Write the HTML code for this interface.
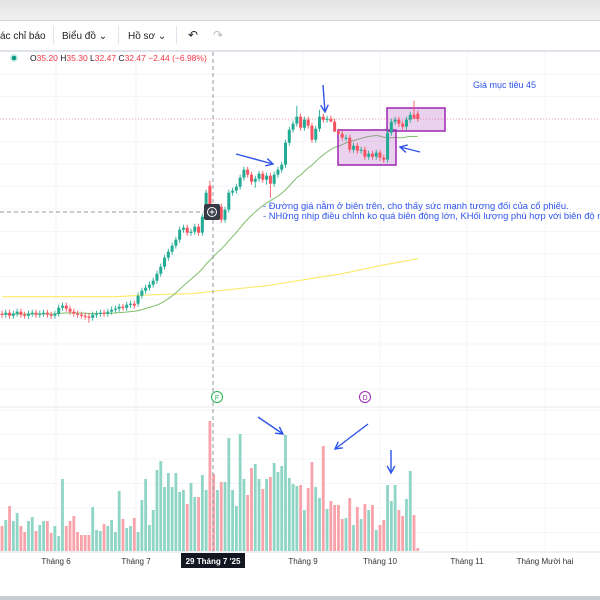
<!DOCTYPE html>
<html><head><meta charset="utf-8">
<style>
html,body{margin:0;padding:0;width:600px;height:600px;overflow:hidden;background:#fff;font-family:"Liberation Sans","Noto Sans CJK SC",sans-serif;}
#wrap{position:relative;width:600px;height:600px;}
.tb{position:absolute;font-size:10px;color:#222;top:31px;}
.sep{position:absolute;top:26px;width:1px;height:18px;background:#e0e3eb;}
svg{position:absolute;left:0;top:0;}
</style></head>
<body>
<div id="wrap">
<div style="position:absolute;left:0;top:0;width:600px;height:20px;background:linear-gradient(#e4e4e4,#f2f2f2);border-bottom:1px solid #d6d6d6;"></div>
<div style="position:absolute;left:0;top:21px;width:600px;height:29px;background:#fff;border-bottom:2px solid #e0e3eb;"></div>
<div class="tb" style="left:0">ác chỉ báo</div>
<div class="sep" style="left:53px"></div>
<div class="tb" style="left:62px">Biểu đồ ⌄</div>
<div class="sep" style="left:118px"></div>
<div class="tb" style="left:128px">Hồ sơ ⌄</div>
<div class="sep" style="left:176px"></div>
<div class="tb" style="left:188px;font-size:12px;top:28px">↶</div>
<div class="tb" style="left:213px;font-size:12px;top:28px;color:#bbb">↷</div>
<div style="position:absolute;left:0;top:596px;width:600px;height:4px;background:#c9ccd2;"></div>
<svg id="chart" width="600" height="600"></svg>
</div>
<script>
const closes=[12.9,13.1,12.8,13.0,13.2,12.9,12.8,13.0,13.1,12.9,
13.0,13.1,12.9,12.8,13.0,13.6,13.8,13.5,13.2,13.0,
12.9,12.8,12.7,12.6,12.9,13.0,13.1,13.0,13.2,13.4,
13.5,13.7,13.6,13.9,14.0,13.8,14.8,15.3,15.6,15.9,
16.3,17.0,17.7,18.6,19.2,19.8,20.4,21.4,21.6,21.1,
21.2,21.7,21.1,22.7,25.1,23.2,23.1,23.7,22.4,23.4,
25.1,25.3,25.7,26.6,27.4,26.9,26.2,26.5,27.0,26.4,
26.8,26.0,26.9,27.4,27.9,30.1,31.4,32.0,32.7,31.6,
32.4,31.8,30.4,31.5,32.7,32.4,32.5,32.2,31.2,31.0,
30.6,30.6,29.4,29.8,29.3,29.4,28.7,29.0,28.7,29.1,
28.6,28.4,31.1,32.2,32.4,32.0,31.7,32.4,32.9,32.5,32.47];
const opens=[13.0,12.9,13.1,12.8,13.0,13.2,12.9,12.8,13.0,13.1,
12.9,13.0,13.1,12.9,12.8,13.0,13.6,13.8,13.5,13.2,
13.0,12.9,12.8,12.7,12.6,12.9,13.0,13.1,13.0,13.2,
13.4,13.5,13.7,13.6,13.9,14.0,14.0,14.8,15.3,15.6,
15.9,16.3,17.0,17.7,18.6,19.2,19.8,20.4,21.4,21.6,
21.1,21.2,21.7,21.1,22.7,25.8,23.5,23.1,23.7,22.4,
23.4,25.1,25.3,25.7,26.6,27.4,26.9,26.2,26.5,27.0,
26.4,26.8,26.0,26.9,27.4,27.9,30.1,31.4,32.0,32.7,
31.6,32.4,31.8,30.4,31.5,32.7,32.4,32.5,32.2,31.2,
31.0,30.6,30.6,29.4,29.8,29.3,29.4,28.7,29.0,28.7,
29.1,28.6,28.4,31.1,32.2,32.4,32.0,31.7,32.4,32.9,33.0];
const highs=[13.3,13.4,13.4,13.3,13.5,13.5,13.2,13.3,13.4,13.4,
13.3,13.4,13.4,13.2,13.3,13.9,14.1,14.1,13.8,13.5,
13.3,13.2,13.1,13.0,13.2,13.3,13.4,13.4,13.5,13.7,
13.8,14.0,14.0,14.2,14.3,14.3,15.1,15.6,15.9,16.2,
16.6,17.3,18.0,18.9,19.5,20.1,20.7,21.7,21.9,21.9,
21.5,22.0,22.0,23.0,25.4,26.3,23.8,24.0,24.0,23.7,
25.4,25.6,26.0,26.9,27.7,27.7,27.2,26.8,27.3,27.3,
27.1,27.1,27.2,27.7,28.2,30.4,31.7,32.3,33.8,33.0,
32.7,32.7,32.1,31.8,33.4,33.0,32.8,32.8,32.5,31.5,
31.3,30.9,30.9,30.1,30.1,29.7,29.7,29.3,29.3,29.4,
29.4,28.9,31.4,32.5,32.7,32.7,32.3,32.7,33.2,34.3,33.3];
const lows=[12.6,12.6,12.5,12.5,12.7,12.6,12.5,12.5,12.7,12.6,
12.6,12.7,12.6,12.5,12.5,12.7,13.3,13.2,12.9,12.7,
12.6,12.5,12.4,12.1,12.3,12.6,12.7,12.7,12.7,12.9,
13.1,13.2,13.3,13.3,13.6,13.5,13.7,14.5,15.0,15.3,
15.6,16.0,16.7,17.4,18.3,18.9,19.5,20.1,21.1,20.8,
20.8,20.9,20.8,20.8,22.4,22.9,22.6,22.8,22.1,22.1,
23.1,24.8,25.0,25.4,26.3,26.6,25.9,25.6,26.2,26.1,
25.9,24.6,25.7,26.6,27.1,27.6,29.8,31.1,31.7,31.3,
31.3,31.5,30.1,30.1,31.2,32.1,32.1,32.2,31.2,30.9,
30.3,30.3,29.1,29.1,29.0,29.0,28.4,28.4,28.4,28.4,
28.3,28.1,28.1,30.8,31.9,31.7,31.4,31.4,32.1,32.6,32.2];
const volumes=[25,31,45,30,38,25,19,30,34,20,26,30,30,18,25,15,72,25,30,35,
19,16,16,16,44,21,20,27,25,31,19,60,32,23,25,33,19,51,72,26,
41,81,90,64,78,64,78,59,61,47,68,54,54,76,61,130,
77,61,69,69,113,61,45,117,72,56,83,87,72,62,72,74,88,79,85,116,
73,67,65,66,41,63,89,64,53,105,42,50,46,46,32,33,53,26,44,32,
47,41,46,21,26,31,66,50,66,41,35,52,80,36,3];
const slowMA=[14.7,14.7,14.7,14.7,14.9,15.0,15.4,15.8,16.4,17.0,17.8,18.5];
const monthLabels=["Tháng 6","Tháng 7","Tháng 9","Tháng 10","Tháng 11","Tháng Mười hai"];
const monthX=[56,136,303,380,467,545];

const NS="http://www.w3.org/2000/svg";
const svg=document.getElementById('chart');
const xOf=i=>2+i*3.78;
const yOf=p=>119+(32.47-p)*10;
const vBase=551;
const vY=v=>vBase-v;
const UP="#22ab94",DN="#f7525f",UPV="#8fd5c6",DNV="#f8a3aa";
function mk(tag,attrs,parent){const e=document.createElementNS(NS,tag);for(const k in attrs)e.setAttribute(k,attrs[k]);(parent||svg).appendChild(e);return e;}

const grid=mk('g',{});


for(let y=74;y<=400;y+=22.5){mk('line',{x1:0,x2:600,y1:y,y2:y,stroke:'#f4f5f8','stroke-width':1},grid);}
for(let y=410;y<=540;y+=24.5){mk('line',{x1:0,x2:600,y1:y,y2:y,stroke:'#f4f5f8','stroke-width':1},grid);}
monthX.forEach(x=>mk('line',{x1:x,x2:x,y1:52,y2:552,stroke:'#f4f5f8','stroke-width':1},grid));
mk('line',{x1:0,x2:600,y1:407,y2:407,stroke:'#e6e8ee','stroke-width':1},grid);

const vg=mk('g',{});


volumes.forEach((v,i)=>{
  const r=mk('rect',{x:xOf(i)-1.4,y:vY(v),width:2.8,height:v,fill:closes[i]>=opens[i]?UPV:DNV},vg);
  
  
});

const pl=mk('line',{x1:0,x2:600,y1:yOf(closes[closes.length-1]),y2:yOf(closes[closes.length-1]),stroke:'#f7a1a8','stroke-width':1,'stroke-dasharray':'1,2'});



let d='';
slowMA.forEach((v,k)=>{d+=(k?'L':'M')+xOf(k*10)+','+yOf(v);});
const ys=mk('path',{d:d,fill:'none',stroke:'#fbe96a','stroke-width':1.2});



d='';
closes.forEach((c,i)=>{const s=Math.max(0,i-24);let sum=0;for(let j=s;j<=i;j++)sum+=closes[j];const m=sum/(i-s+1);d+=(i?'L':'M')+xOf(i)+','+yOf(m);});
const gm=mk('path',{d:d,fill:'none',stroke:'#7fbf6a','stroke-width':1});



const b1=mk('rect',{x:338,y:130,width:58,height:35,fill:'rgba(186,104,200,0.3)',stroke:'#9c27b0','stroke-width':1.5});


const b2=mk('rect',{x:387,y:108,width:58,height:23,fill:'rgba(186,104,200,0.3)',stroke:'#9c27b0','stroke-width':1.5});



const cg=mk('g',{});


closes.forEach((c,i)=>{
  const o=opens[i],col=c>=o?UP:DN,x=xOf(i);
  mk('line',{x1:x,x2:x,y1:yOf(highs[i]),y2:yOf(lows[i]),stroke:col,'stroke-width':0.9},cg);
  const top=yOf(Math.max(o,c)),h=Math.max(1.2,Math.abs(yOf(o)-yOf(c)));
  const r=mk('rect',{x:x-1.5,y:top,width:3,height:h,fill:col},cg);
  
  
});

const ch=mk('g',{});


mk('line',{x1:213,x2:213,y1:52,y2:552,stroke:'#9598a1','stroke-width':1,'stroke-dasharray':'4,3'},ch);
mk('line',{x1:0,x2:205,y1:212,y2:212,stroke:'#9598a1','stroke-width':1,'stroke-dasharray':'4,3'},ch);
const pb=mk('g',{});


mk('rect',{x:204,y:204,width:16,height:16,rx:2,fill:'#363a45'},pb);
mk('circle',{cx:212,cy:212,r:4.5,fill:'none',stroke:'#fff','stroke-width':1},pb);
mk('path',{d:'M209.5,212H214.5M212,209.5V214.5',stroke:'#fff','stroke-width':1},pb);

function arrow(x1,y1,x2,y2,name){
  const g=mk('g',{});
  
  
  mk('line',{x1:x1,y1:y1,x2:x2,y2:y2,stroke:'#2f54eb','stroke-width':1.4},g);
  const a=Math.atan2(y2-y1,x2-x1),L=8;
  const p1=[x2-L*Math.cos(a-0.5),y2-L*Math.sin(a-0.5)],p2=[x2-L*Math.cos(a+0.5),y2-L*Math.sin(a+0.5)];
  mk('path',{d:`M${p1}L${x2},${y2}L${p2}`,fill:'none',stroke:'#2f54eb','stroke-width':1.4},g);
}
arrow(236,154,273,164,'arrow-uptrend');
arrow(323,85,325,112,'arrow-peak');
arrow(420,152,400,147,'arrow-support');
arrow(258,417,283,434,'arrow-volume-1');
arrow(368,424,335,449,'arrow-volume-2');
arrow(391,450,391,473,'arrow-volume-3');

function txt(x,y,s,attrs,name,inter){const t=mk('text',Object.assign({x:x,y:y,'font-family':'Liberation Sans, sans-serif'},attrs));t.textContent=s;return t;}
txt(473,88,'Giá mục tiêu 45',{'font-size':9,fill:'#2f54eb'},'target-price-label',true);
txt(263,209,'- Đường giá nằm ở biên trên, cho thấy sức mạnh tương đối của cổ phiếu.',{'font-size':9.4,fill:'#2f54eb'},'annotation-line-1',true);
txt(263,219,'- NHững nhịp điều chỉnh ko quá biên động lớn, KHối lượng phù hợp với biên độ nhịp điều chỉnh',{'font-size':9.4,fill:'#2f54eb'},'annotation-line-2',true);

const lg=mk('g',{});


mk('circle',{cx:14,cy:58,r:4,fill:'#cdeee6'},lg);
mk('circle',{cx:14,cy:58,r:2.3,fill:'#089981'},lg);
const lt=mk('text',{x:30,y:61,'font-size':8.5,'font-family':'Liberation Sans, sans-serif',fill:'#f23645'},lg);
lt.innerHTML='<tspan fill="#131722">O</tspan>35.20 <tspan fill="#131722">H</tspan>35.30 <tspan fill="#131722">L</tspan>32.47 <tspan fill="#131722">C</tspan>32.47 −2.44 (−6.98%)';

const f=mk('g',{});
mk('circle',{cx:217,cy:397,r:5.5,fill:'#fff',stroke:'#22b14c','stroke-width':1},f);
mk('text',{x:217,y:400,'font-size':7,'text-anchor':'middle',fill:'#22b14c','font-family':'Liberation Sans, sans-serif'},f).textContent='F';
const dm=mk('g',{});
mk('circle',{cx:365,cy:397,r:5.5,fill:'#fff',stroke:'#9c27b0','stroke-width':1},dm);
mk('text',{x:365,y:400,'font-size':7,'text-anchor':'middle',fill:'#9c27b0','font-family':'Liberation Sans, sans-serif'},dm).textContent='D';

const xa=mk('g',{});


mk('line',{x1:0,x2:600,y1:552,y2:552,stroke:'#e0e3eb'},xa);
monthLabels.forEach((s,k)=>{const t=mk('text',{x:monthX[k],y:564,'font-size':8,'text-anchor':'middle',fill:'#333','font-family':'Liberation Sans, sans-serif'},xa);t.textContent=s;});
mk('rect',{x:181,y:553,width:64,height:15,fill:'#131722'},xa);
const ct=mk('text',{x:213,y:564,'font-size':8,'text-anchor':'middle',fill:'#fff','font-weight':'bold','font-family':'Liberation Sans, sans-serif'},xa);
ct.textContent="29 Tháng 7 '25";


</script>
</body></html>
